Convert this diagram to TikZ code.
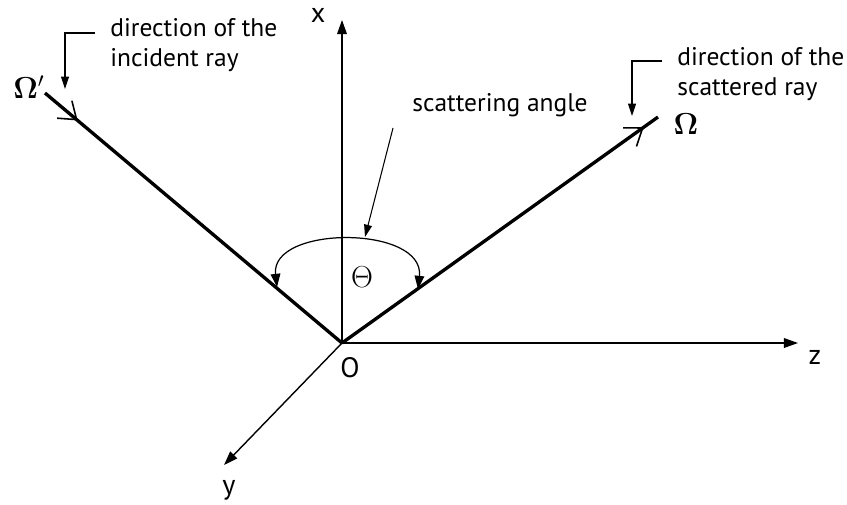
\documentclass[tikz,border=0pt]{standalone}
\usepackage{amsmath}
\usepackage[no-math]{fontspec}
\setmainfont{PT Sans}
\usetikzlibrary{arrows.meta,positioning,decorations.markings}

\begin{document}
\begin{tikzpicture}[
  x=0.02cm, y=-0.02cm,
  axis/.style={line width=0.8pt, -{Triangle[length=8pt, width=5.5pt]}},
  ray/.style={line width=1.9pt},
  pointer/.style={line width=0.6pt, -{Triangle[length=7pt, width=4.5pt]}},
  note/.style={font=\fontsize{14.5}{17}\selectfont, align=left, anchor=west, inner sep=0pt},
  axlabel/.style={font=\fontsize{16}{18}\selectfont, inner sep=0pt},
  barb/.style={decoration={markings, mark=at position #1 with
        {\arrow[line width=0.9pt]{Straight Barb[length=9pt, width=13pt]}}},
        postaction={decorate}},
]
  \useasboundingbox (0,0) rectangle (847,504);

  % Origin and axes
  \coordinate (O) at (342,343);
  \coordinate (xend) at (342,20);
  \coordinate (zend) at (798,343);
  \coordinate (yend) at (224,465);
  \draw[axis] (O) -- (xend);
  \draw[axis] (O) -- (zend);
  \draw[axis] (O) -- (yend);
  \node[axlabel] (xlab) at (318,15) {x};
  \node[axlabel] (zlab) at (815,357) {z};
  \node[axlabel] (ylab) at (229,490) {y};
  \node[axlabel] (olab) at (350,368) {O};

  % Incident and scattered rays
  \coordinate (inc) at (45,93);
  \coordinate (sca) at (658,117);
  \draw[ray, barb=0.11] (inc) -- (O);
  \draw[ray, barb=0.955] (O) -- (sca);
  \node[font=\fontsize{18}{20}\selectfont] (omp) at (29,87) {$\mathbf{\Omega}^{\prime}$};
  \node[font=\fontsize{17}{19}\selectfont] (om) at (686,124) {$\mathbf{\Omega}$};

  % Notes
  \node[note] (incnote) at (110,45) {direction of the\\incident ray};
  \node[note] (scanote) at (677,74) {direction of the\\scattered ray};
  \node[note, anchor=center] (angnote) at (500,105) {scattering angle};

  \coordinate (ia) at (95,33);
  \coordinate (ib) at (65,33);
  \coordinate (ic) at (65,89);
  \draw[pointer] (ia) -- (ib) -- (ic);
  \coordinate (sa) at (662,61);
  \coordinate (sb) at (632,61);
  \coordinate (sc) at (632,116);
  \draw[pointer] (sa) -- (sb) -- (sc);
  \coordinate (aa) at (393,128);
  \coordinate (ab) at (365,237);
  \draw[pointer] (aa) -- (ab);

  % Scattering angle
  \coordinate (al) at (277,287);
  \coordinate (ar) at (418,289);
  \draw[line width=0.7pt, {Triangle[length=7.5pt, width=5.5pt]}-{Triangle[length=7.5pt, width=5.5pt]}]
    (al) .. controls (270,225) and (425,225) .. (ar);
  \node[font=\fontsize{17}{19}\selectfont] (theta) at (362,277) {$\Theta$};
\end{tikzpicture}
\end{document}
